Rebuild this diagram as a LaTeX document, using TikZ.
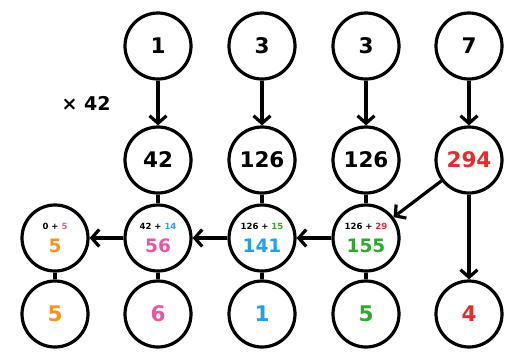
\documentclass[tikz,border=0pt]{standalone}
\usepackage{fontspec}
\setmainfont{DejaVu Sans}
\usetikzlibrary{arrows.meta}
\definecolor{cor}{HTML}{F7931E}
\definecolor{cpk}{HTML}{E8569F}
\definecolor{cbl}{HTML}{1DA1F2}
\definecolor{cgr}{HTML}{2BAA2B}
\definecolor{crd}{HTML}{EA2A2A}
\tikzset{
  ball/.style={circle,draw=black,line width=3.2pt,minimum size=66pt,inner sep=0pt,fill=white,font=\bfseries\fontsize{21.5}{24}\selectfont,align=center},
  conn/.style={line width=3.2pt},
  arr/.style={line width=3.2pt,-{Straight Barb[length=7.5pt,width=17pt]}},
}
\newcommand{\smt}[1]{{\fontsize{8.5}{10}\selectfont #1}}
\newcommand{\bgt}[2]{{\fontsize{18.5}{20}\selectfont\color{#1}#2}}
\begin{document}
\begin{tikzpicture}[x=1pt,y=-1pt]
\useasboundingbox (0,0) rectangle (520,360);
% top row
\node[ball] (t2) at (158,46) {1};
\node[ball] (t3) at (262,46) {3};
\node[ball] (t4) at (366,46) {3};
\node[ball] (t5) at (469,46) {7};
\node[font=\bfseries\fontsize{19}{22}\selectfont] (mul) at (86,103) {× 42};
% second row
\node[ball] (m2) at (158,160) {42};
\node[ball] (m3) at (262,160) {126};
\node[ball] (m4) at (366,160) {126};
\node[ball,text=crd] (m5) at (469,160) {294};
% third row
\node[ball] (s1) at (55,238) {\smt{0 + \textcolor{cpk}{5}}\\[-1pt]\bgt{cor}{5}};
\node[ball] (s2) at (158,238) {\smt{42 + \textcolor{cbl}{14}}\\[-1pt]\bgt{cpk}{56}};
\node[ball] (s3) at (262,238) {\smt{126 + \textcolor{cgr}{15}}\\[-1pt]\bgt{cbl}{141}};
\node[ball] (s4) at (366,238) {\smt{126 + \textcolor{crd}{29}}\\[-1pt]\bgt{cgr}{155}};
% bottom row
\node[ball,text=cor] (b1) at (55,314) {5};
\node[ball,text=cpk] (b2) at (158,314) {6};
\node[ball,text=cbl] (b3) at (262,314) {1};
\node[ball,text=cgr] (b4) at (366,314) {5};
\node[ball,text=crd] (b5) at (469,314) {4};
% connectors
\draw[arr] (t2) -- (m2);
\draw[arr] (t3) -- (m3);
\draw[arr] (t4) -- (m4);
\draw[arr] (t5) -- (m5);
\draw[conn] (m2) -- (s2);
\draw[conn] (m3) -- (s3);
\draw[conn] (m4) -- (s4);
\draw[arr] (m5) -- (s4);
\draw[arr] (m5) -- (b5);
\draw[arr] (s4) -- (s3);
\draw[arr] (s3) -- (s2);
\draw[arr] (s2) -- (s1);
\draw[conn] (s1) -- (b1);
\draw[conn] (s2) -- (b2);
\draw[conn] (s3) -- (b3);
\draw[conn] (s4) -- (b4);
\end{tikzpicture}
\end{document}
